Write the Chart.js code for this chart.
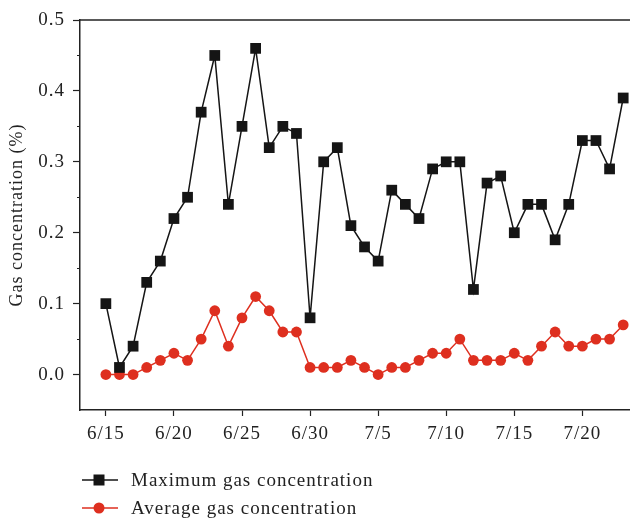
<!DOCTYPE html>
<html>
<head>
<meta charset="utf-8">
<script src="https://cdn.jsdelivr.net/npm/chart.js@4/dist/chart.umd.min.js"></script>
<style>
  html, body { margin: 0; padding: 0; background: #fff; }
  #wrap { position: relative; width: 630px; height: 522px; }
  #chart { position: absolute; left: 0; top: 0; }
  .legend { position: absolute; left: 82px; font: 19px "Liberation Serif", serif; letter-spacing: 1px; color: #222; }
  .legend .row { position: absolute; left: 0; height: 20px; display: flex; align-items: center; white-space: nowrap; }
  .legend canvas { width: 36px; height: 20px; margin-right: 13px; }
</style>
</head>
<body>
<div id="wrap">
  <canvas id="chart" width="630" height="522"></canvas>
  <div class="legend" id="legend"></div>
</div>
<script>
"use strict";

// daily readings, 6/15 .. 7/23
const dates = [
  "6/15", "6/16", "6/17", "6/18", "6/19", "6/20", "6/21", "6/22", "6/23", "6/24",
  "6/25", "6/26", "6/27", "6/28", "6/29", "6/30", "7/1", "7/2", "7/3", "7/4",
  "7/5", "7/6", "7/7", "7/8", "7/9", "7/10", "7/11", "7/12", "7/13", "7/14",
  "7/15", "7/16", "7/17", "7/18", "7/19", "7/20", "7/21", "7/22", "7/23",
];
const maxConc = [
  0.10, 0.01, 0.04, 0.13, 0.16, 0.22, 0.25, 0.37, 0.45, 0.24,
  0.35, 0.46, 0.32, 0.35, 0.34, 0.08, 0.30, 0.32, 0.21, 0.18,
  0.16, 0.26, 0.24, 0.22, 0.29, 0.30, 0.30, 0.12, 0.27, 0.28,
  0.20, 0.24, 0.24, 0.19, 0.24, 0.33, 0.33, 0.29, 0.39,
];
const avgConc = [
  0.00, 0.00, 0.00, 0.01, 0.02, 0.03, 0.02, 0.05, 0.09, 0.04,
  0.08, 0.11, 0.09, 0.06, 0.06, 0.01, 0.01, 0.01, 0.02, 0.01,
  0.00, 0.01, 0.01, 0.02, 0.03, 0.03, 0.05, 0.02, 0.02, 0.02,
  0.03, 0.02, 0.04, 0.06, 0.04, 0.04, 0.05, 0.05, 0.07,
];
const xTickLabels = ["6/15", "6/20", "6/25", "6/30", "7/5", "7/10", "7/15", "7/20"];
const yMajorTicks = [0.0, 0.1, 0.2, 0.3, 0.4, 0.5];
const yMinorTicks = [0.05, 0.15, 0.25, 0.35, 0.45];

const seriesNames = ["Maximum gas concentration", "Average gas concentration"];
const BLACK = "#151515";
const RED = "#de2f1f";
const AXIS = "#222";
const FONT = "Liberation Serif";

const xTickValues = xTickLabels.map((lbl) => dates.indexOf(lbl));
const toPoints = (vals) => vals.map((v, i) => ({ x: i, y: v }));

function setSpacing(chart) {
  chart.ctx.letterSpacing = "1px";
}

const frameTop = {
  id: "frameTop",
  beforeUpdate: setSpacing,
  beforeLayout: setSpacing,
  beforeDraw: setSpacing,
  afterDraw(chart) {
    const { ctx, chartArea: a } = chart;
    ctx.save();
    ctx.strokeStyle = AXIS;
    ctx.lineWidth = 1.5;
    ctx.beginPath();
    ctx.moveTo(a.left, a.top);
    ctx.lineTo(a.right, a.top);
    ctx.stroke();
    ctx.restore();
  },
};

const chart = new Chart(document.getElementById("chart"), {
  type: "line",
  data: {
    datasets: [
      {
        label: seriesNames[0],
        data: toPoints(maxConc),
        borderColor: BLACK,
        backgroundColor: BLACK,
        borderWidth: 1.5,
        pointStyle: "rect",
        pointRadius: 7.6,
        pointBorderWidth: 0,
        tension: 0,
        clip: false,
      },
      {
        label: seriesNames[1],
        data: toPoints(avgConc),
        borderColor: RED,
        backgroundColor: RED,
        borderWidth: 1.5,
        pointStyle: "circle",
        pointRadius: 5.4,
        pointBorderWidth: 0,
        tension: 0,
        clip: false,
      },
    ],
  },
  options: {
    responsive: false,
    animation: false,
    layout: { autoPadding: false, padding: { top: 20, right: 0, left: 0, bottom: 0 } },
    plugins: { legend: { display: false }, tooltip: { enabled: false } },
    scales: {
      x: {
        type: "linear",
        min: -1.9,
        max: 38.5,
        afterBuildTicks: (s) => { s.ticks = xTickValues.map((v) => ({ value: v })); },
        afterFit: (s) => {
          s.height = 112;
          s.paddingLeft = 0;
          s.paddingRight = 0;
        },
        grid: { drawOnChartArea: false, drawTicks: true, tickLength: 6, tickColor: AXIS, tickWidth: 1.2 },
        border: { display: true, color: AXIS, width: 1.5 },
        ticks: {
          color: "#222",
          padding: 7,
          maxRotation: 0,
          autoSkip: false,
          font: { family: FONT, size: 19 },
          callback: (v) => dates[v],
        },
      },
      y: {
        min: -0.05,
        max: 0.5,
        afterBuildTicks: (s) => {
          s.ticks = yMajorTicks.concat(yMinorTicks).sort((a, b) => a - b).map((v) => ({ value: v }));
        },
        afterFit: (s) => {
          s.width = 80;
          s.paddingTop = 0;
          s.paddingBottom = 0;
        },
        grid: {
          drawOnChartArea: false,
          drawTicks: true,
          tickLength: 7,
          tickColor: AXIS,
          tickWidth: 1.2,
          // minor ticks: only the inner 3px of the tick line
          tickBorderDash: (c) => (yMinorTicks.includes(c.tick && c.tick.value) ? [0, 4, 3, 100] : []),
        },
        border: { display: true, color: AXIS, width: 1.5 },
        title: {
          display: true,
          text: "Gas concentration (%)",
          color: "#222",
          font: { family: FONT, size: 18 },
          padding: { top: 6, bottom: 0 },
        },
        ticks: {
          color: "#222",
          padding: 8,
          autoSkip: false,
          font: { family: FONT, size: 19 },
          callback: (v) => (yMinorTicks.includes(v) ? "" : v.toFixed(1)),
        },
      },
    },
  },
  plugins: [frameTop],
});

// legend under the plot: line + marker icon, then the series name
function buildLegend() {
  const box = document.getElementById("legend");
  const rows = [
    { name: seriesNames[0], color: BLACK, style: "rect", top: 470 },
    { name: seriesNames[1], color: RED, style: "circle", top: 498 },
  ];
  for (const r of rows) {
    const row = document.createElement("div");
    row.className = "row";
    row.style.top = r.top + "px";
    const icon = document.createElement("canvas");
    icon.width = 36;
    icon.height = 20;
    const g = icon.getContext("2d");
    g.strokeStyle = r.color;
    g.fillStyle = r.color;
    g.lineWidth = 1.5;
    g.beginPath();
    g.moveTo(0, 10);
    g.lineTo(36, 10);
    g.stroke();
    if (r.style === "rect") {
      g.fillRect(11.5, 4.5, 11, 11);
    } else {
      g.beginPath();
      g.arc(17, 10, 5.5, 0, Math.PI * 2);
      g.fill();
    }
    const label = document.createElement("span");
    label.textContent = r.name;
    row.appendChild(icon);
    row.appendChild(label);
    box.appendChild(row);
  }
}
buildLegend();
</script>
</body>
</html>
